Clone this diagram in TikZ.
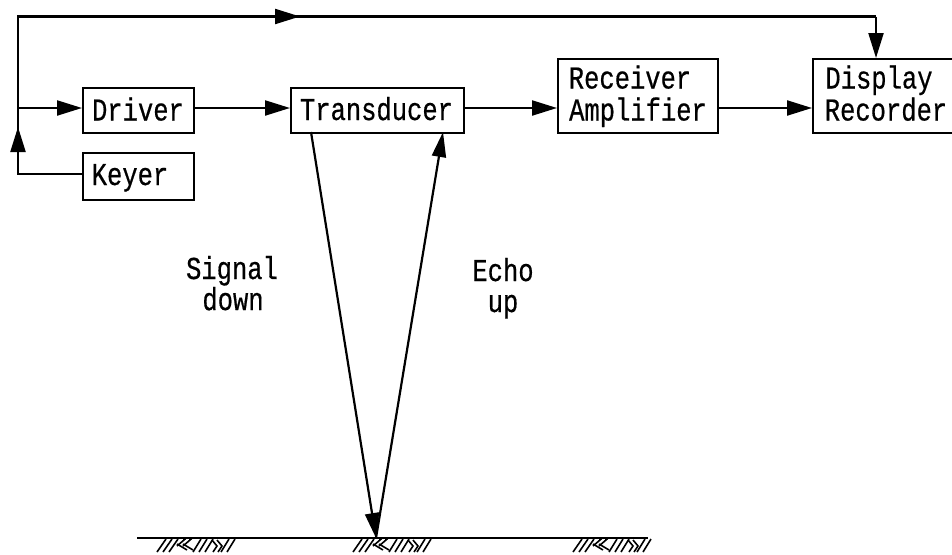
\documentclass[tikz,border=0pt]{standalone}
\usepackage{fontspec}
\setmainfont[FakeBold=0.6]{Liberation Mono}
\usetikzlibrary{arrows.meta,calc}
\newcommand{\tall}[1]{\scalebox{1}[1.25]{#1}}
\newcommand{\hatchgroup}[2]{%
  \foreach \d in {0,6,12}{\draw[hatchline] ($(#1,#2)+(\d,14)$) -- ++(9,-13);}
  \foreach \d in {20,26}{\draw[hatchline] ($(#1,#2)+(\d,8)$) -- ++(7,-6) -- ++(-1,0);
    \draw[hatchline] ($(#1,#2)+(\d,6)$) -- ++(10,6);}
  \foreach \d in {36,42,48}{\draw[hatchline] ($(#1,#2)+(\d,14)$) -- ++(8,-13);}
  \foreach \d in {55,60}{\draw[hatchline] ($(#1,#2)+(\d,2)$) -- ++(5,6) -- ++(-4,6);}
  \foreach \d in {64,70}{\draw[hatchline] ($(#1,#2)+(\d,14)$) -- ++(8,-13);}
}
\tikzset{
  x=1pt,y=-1pt,
  conn/.style={line width=2.2pt,line join=miter},
  headed/.style={conn,-{Triangle[length=25pt,width=15pt]}},
  blockbox/.style={draw,line width=2.2pt,inner sep=0pt,anchor=north west,minimum height=#1},
  blocktext/.style={font=\fontsize{25.5pt}{31pt}\selectfont,inner sep=0pt,anchor=base},
  hatchline/.style={line width=1.6pt},
}
\begin{document}
\begin{tikzpicture}
\useasboundingbox (0,0) rectangle (952,554);
% boxes
\node[blockbox=45pt,minimum width=111pt] (driver) at (82,87) {};
\node[blockbox=47pt,minimum width=111pt] (keyer) at (82,152) {};
\node[blockbox=45pt,minimum width=173pt] (trans) at (290,87) {};
\node[blockbox=74pt,minimum width=160pt] (recv) at (557,58) {};
\node[blockbox=74pt,minimum width=145pt] (disp) at (812,58) {};
% box texts
\node[blocktext] (t1) at (138,120.5) {\tall{Driver}};
\node[blocktext] (t2) at (130,185) {\tall{Keyer}};
\node[blocktext] (t3) at (376.5,120) {\tall{Transducer}};
\node[blocktext] (t4) at (630,88.5) {\tall{Receiver}};
\node[blocktext] (t5) at (638,120.5) {\tall{Amplifier}};
\node[blocktext] (t6) at (879,88.5) {\tall{Display}};
\node[blocktext] (t7) at (886,120.5) {\tall{Recorder}};
% free labels
\node[blocktext] (l1) at (232,279) {\tall{Signal}};
\node[blocktext] (l2) at (233,310) {\tall{down}};
\node[blocktext] (l3) at (503,281) {\tall{Echo}};
\node[blocktext] (l4) at (503,312) {\tall{up}};
% junctions
\coordinate (tl) at (18,16.5);
\coordinate (tr) at (876,16.5);
\coordinate (kc) at (18,174);
\coordinate (jn) at (18,108);
\coordinate (gp) at (376,538);
\coordinate (sd) at (311,132);
\coordinate (eu) at (443,132);
% connectors
\draw[conn] (keyer.west |- kc) -- (kc) -- (jn);
\draw[headed] (kc) -- (18,127);
\draw[conn] (jn) -- (tl) -- (tr);
\draw[headed] (tl) -- (300,16.5);
\draw[headed] (tr) -- (disp.north -| tr);
\draw[headed] (jn) -- (driver.west |- jn);
\draw[headed] (driver.east |- jn) -- (trans.west |- jn);
\draw[headed] (trans.east |- jn) -- (recv.west |- jn);
\draw[headed] (recv.east |- jn) -- (disp.west |- jn);
\draw[conn,-{Triangle[length=25pt,width=14pt]}] (sd) -- (gp);
\draw[conn,-{Triangle[length=25pt,width=14pt]}] (gp) -- (eu);
% ground
\coordinate (g1) at (137,538);
\coordinate (g2) at (648,538);
\draw[line width=2.4pt] (g1) -- (g2);
\hatchgroup{157}{538}
\hatchgroup{353}{538}
\hatchgroup{573}{538}
\end{tikzpicture}
\end{document}
